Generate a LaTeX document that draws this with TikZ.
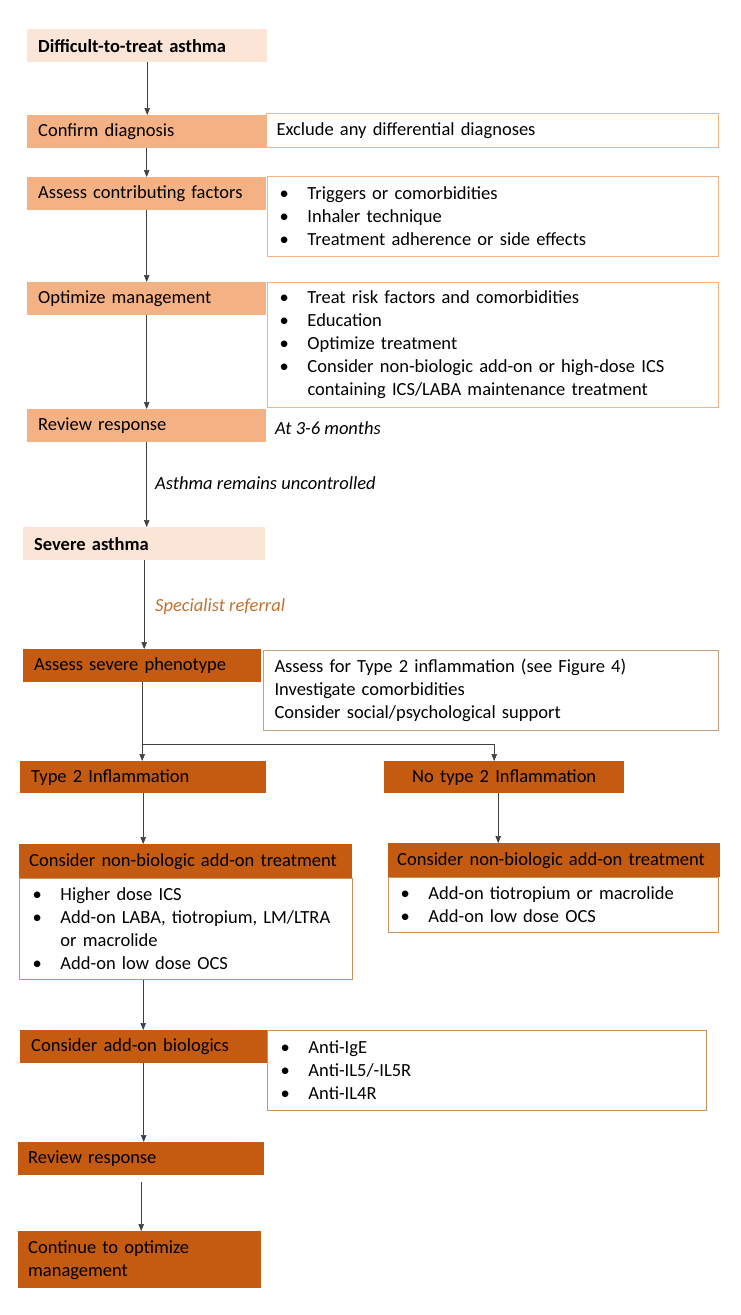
\documentclass[tikz,border=0pt]{standalone}
\usepackage{fontspec}
\setmainfont{Carlito}
\usetikzlibrary{arrows.meta,calc}
\definecolor{peach}{HTML}{FBE5D6}
\definecolor{lorange}{HTML}{F4B183}
\definecolor{dorange}{HTML}{C55A11}
\definecolor{tanborder}{HTML}{C4A27F}
\definecolor{bborder}{HTML}{C8915E}
\definecolor{refcol}{HTML}{C0722F}
\definecolor{arrgray}{HTML}{404040}
\newcommand{\bi}[1]{\mbox{\makebox[28pt][l]{\textbullet}#1}}
\newcommand{\ci}[1]{\mbox{\hspace*{28pt}#1}}
\tikzset{
  base/.style={rectangle, anchor=north west, inner ysep=0pt, inner xsep=11pt,
    align=left, font=\fontsize{18.5}{23}\selectfont, text=black},
  peachbox/.style={base, fill=peach},
  midbox/.style={base, fill=lorange},
  darkbox/.style={base, fill=dorange},
  notebox/.style={base, draw=lorange, line width=1pt, fill=white},
  tanbox/.style={base, draw=tanborder, line width=1pt, fill=white},
  listbox/.style={base, draw=bborder, line width=1pt, fill=white},
  lbl/.style={anchor=west, inner sep=0pt, font=\fontsize{18.5}{23}\selectfont\itshape},
  arr/.style={draw=arrgray, line width=0.7pt, -{Triangle[length=7pt,width=5.5pt]}},
}
\begin{document}
\begin{tikzpicture}[x=1pt,y=-1pt]
\useasboundingbox (0,0) rectangle (740,1315);

% right-hand note boxes (drawn first)
\node[notebox, inner xsep=10pt, text width=432pt, minimum height=34pt] (cdn) at (266,113)
  {Exclude any differential diagnoses};
\node[notebox, inner xsep=12pt, text width=427pt, minimum height=80pt] (acfn) at (267,176)
  {\bi{Triggers or comorbidities}\\ \bi{Inhaler technique}\\ \bi{Treatment adherence or side effects}};
\node[notebox, inner xsep=12pt, text width=427pt, minimum height=125pt] (omn) at (267,282)
  {\bi{Treat risk factors and comorbidities}\\ \bi{Education}\\ \bi{Optimize treatment}\\
   \bi{Consider non-biologic add-on or high-dose ICS}\\ \ci{containing ICS/LABA maintenance treatment}};
\node[tanbox, inner xsep=11pt, text width=433pt, minimum height=80pt] (aspn) at (263,650)
  {Assess for Type 2 inflammation (see Figure 4)\\ Investigate comorbidities\\ Consider social/psychological support};
\node[listbox, inner xsep=13pt, text width=307pt, minimum height=101pt] (ll) at (19,878)
  {\bi{Higher dose ICS}\\ \bi{Add-on LABA, tiotropium, LM/LTRA}\\ \ci{or macrolide}\\ \bi{Add-on low dose OCS}};
\node[listbox, inner xsep=12pt, text width=306pt, minimum height=55pt] (rl) at (388,877)
  {\bi{Add-on tiotropium or macrolide}\\ \bi{Add-on low dose OCS}};
\node[listbox, inner xsep=13pt, text width=413pt, minimum height=80pt] (abn) at (267,1030)
  {\bi{Anti-IgE}\\ \bi{Anti-IL5/-IL5R}\\ \bi{Anti-IL4R}};

% main column
\node[peachbox, text width=218pt, minimum height=33pt, font=\fontsize{18.5}{23}\selectfont\bfseries] (dta) at (27,29)
  {Difficult-to-treat asthma};
\node[midbox, text width=217pt, minimum height=33pt] (cd) at (27,115) {Confirm diagnosis};
\node[midbox, text width=217pt, minimum height=33pt] (acf) at (27,177) {Assess contributing factors};
\node[midbox, text width=217pt, minimum height=33pt] (om) at (27,282) {Optimize management};
\node[midbox, text width=217pt, minimum height=33pt] (rr) at (27,409) {Review response};
\node[lbl] (t36) at (275,428) {At 3-6 months};
\node[lbl] (unc) at (155,483) {Asthma remains uncontrolled};
\node[peachbox, text width=220pt, minimum height=33pt, font=\fontsize{18.5}{23}\selectfont\bfseries] (sa) at (23,527)
  {Severe asthma};
\node[lbl, text=refcol] (spr) at (155,607) {Specialist referral};
\node[darkbox, text width=216pt, minimum height=33pt] (asp) at (23,649) {Assess severe phenotype};
\node[darkbox, text width=224pt, minimum height=32pt] (t2) at (20,761) {Type 2 Inflammation};
\node[darkbox, text width=218pt, minimum height=32pt, align=center] (nt2) at (384,761) {No type 2 Inflammation};
\node[darkbox, inner xsep=10pt, text width=313pt, minimum height=34pt] (lh) at (19,844) {Consider non-biologic add-on treatment};
\node[darkbox, inner xsep=9pt, text width=314pt, minimum height=34pt] (rh) at (388,843) {Consider non-biologic add-on treatment};
\node[darkbox, text width=225pt, minimum height=33pt] (ab) at (20,1030) {Consider add-on biologics};
\node[darkbox, inner xsep=10pt, text width=226pt, minimum height=33pt] (rr2) at (18,1142) {Review response};
\node[darkbox, inner xsep=10pt, text width=223pt, minimum height=57pt] (cont) at (18,1231) {Continue to optimize\\ management};

% connectors
\draw[arr] (dta.south) -- (dta.south |- cd.north);
\draw[arr] (cd.south) -- (cd.south |- acf.north);
\draw[arr] (acf.south) -- (acf.south |- om.north);
\draw[arr] (om.south) -- (om.south |- rr.north);
\draw[arr] (rr.south) -- (rr.south |- sa.north);
\draw[arr] (sa.south) -- (sa.south |- asp.north);
\coordinate (split) at ($(asp.south)+(0,62)$);
\draw[arr] (asp.south) -- (asp.south |- t2.north);
\draw[arr] (split) -| ($(nt2.north)+(-10,0)$);
\draw[arr] (t2.south) -- (t2.south |- lh.north);
\draw[arr] ($(nt2.south)+(-6,0)$) -- ($(nt2.south |- rh.north)+(-6,0)$);
\draw[arr] (ll.south -| t2.south) -- (t2.south |- ab.north);
\draw[arr] (ab.south) -- (ab.south |- rr2.north);
\draw[arr, shorten <=7pt] (rr2.south) -- (rr2.south |- cont.north);
\end{tikzpicture}
\end{document}
